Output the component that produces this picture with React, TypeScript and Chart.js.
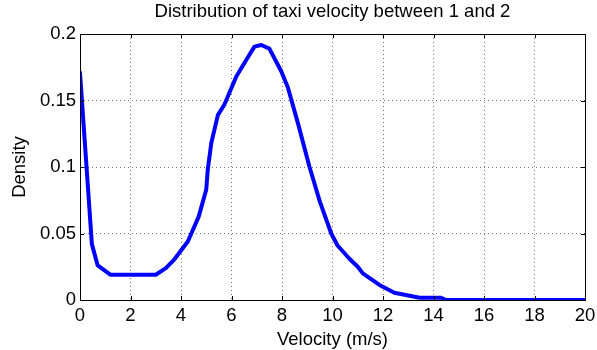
import React, { useEffect, useRef } from "react";
import { Chart, registerables } from "chart.js";

Chart.register(...registerables);

// Velocity (m/s) and estimated density along the curve
const velocity = [
  0, 0.47, 0.7, 1.2, 3.0, 3.4, 3.74, 4.27, 4.7, 5.0, 5.06, 5.2, 5.46, 5.72, 6.19, 6.6, 6.91, 7.18,
  7.5, 7.97, 8.23, 8.63, 9.09, 9.5, 9.95, 10.2, 10.67, 11.0, 11.2, 11.86, 12.45, 13.45, 14.3, 14.5,
  16, 18, 20,
];
const density = [
  0.171, 0.042, 0.026, 0.019, 0.019, 0.024, 0.0306, 0.044, 0.0627, 0.083, 0.098, 0.118, 0.139,
  0.147, 0.168, 0.181, 0.1905, 0.1917, 0.189, 0.172, 0.16, 0.133, 0.1, 0.074, 0.05, 0.041, 0.031,
  0.025, 0.02, 0.0113, 0.0055, 0.0017, 0.0017, 0, 0, 0, 0,
];

const xTickLabels = ["0", "2", "4", "6", "8", "10", "12", "14", "16", "18", "20"];
const yTickLabels = ["0", "0.05", "0.1", "0.15", "0.2"];

const titleText = "Distribution of taxi velocity between 1 and 2";
const xLabel = "Velocity (m/s)";
const yLabel = "Density";

const FONT = "'Liberation Sans', Arial, sans-serif";
const FONT_SIZE = 18.5;

// Frame, inward tick marks, title and axis labels
const framePlugin = {
  id: "frame",
  afterDatasetsDraw(chart: any) {
    const { ctx, chartArea: a, scales } = chart;
    const xs = scales.x;
    const ys = scales.y;
    ctx.save();
    ctx.strokeStyle = "#000";
    ctx.lineWidth = 1;
    ctx.strokeRect(Math.round(a.left) + 0.5, Math.round(a.top) + 0.5, Math.round(a.right - a.left), Math.round(a.bottom - a.top));
    const tl = 4;
    ctx.beginPath();
    xs.ticks.forEach((t: any) => {
      const px = Math.round(xs.getPixelForValue(t.value)) + 0.5;
      ctx.moveTo(px, a.bottom);
      ctx.lineTo(px, a.bottom - tl);
      ctx.moveTo(px, a.top);
      ctx.lineTo(px, a.top + tl);
    });
    ys.ticks.forEach((t: any) => {
      const py = Math.round(ys.getPixelForValue(t.value)) + 0.5;
      ctx.moveTo(a.left, py);
      ctx.lineTo(a.left + tl, py);
      ctx.moveTo(a.right, py);
      ctx.lineTo(a.right - tl, py);
    });
    ctx.stroke();

    ctx.fillStyle = "#000";
    ctx.font = `${FONT_SIZE}px ${FONT}`;
    ctx.textAlign = "center";
    ctx.textBaseline = "middle";
    const cx = (a.left + a.right) / 2;
    ctx.fillText(titleText, cx, 12);
    ctx.fillText(xLabel, cx, 340);
    ctx.translate(20, (a.top + a.bottom) / 2);
    ctx.rotate(-Math.PI / 2);
    ctx.fillText(yLabel, 0, 0);
    ctx.restore();
  },
};

export default function App() {
  const ref = useRef<HTMLCanvasElement>(null);
  useEffect(() => {
    if (!ref.current) return;
    const chart = new Chart(ref.current, {
      type: "line",
      data: {
        datasets: [
          {
            data: velocity.map((v, i) => ({ x: v, y: density[i] })),
            borderColor: "#0000ff",
            borderWidth: 4,
            pointRadius: 0,
            fill: false,
            tension: 0,
            borderJoinStyle: "round",
            borderCapStyle: "round",
          },
        ],
      },
      options: {
        responsive: false,
        animation: false,
        events: [],
        layout: { padding: { top: 34, right: 12, left: 0, bottom: 0 } },
        plugins: { legend: { display: false }, tooltip: { enabled: false } },
        scales: {
          x: {
            type: "linear",
            min: 0,
            max: 20,
            afterFit: (s: any) => {
              s.height = 50;
              s.paddingLeft = 0;
              s.paddingRight = 0;
            },
            afterBuildTicks: (s: any) => {
              s.ticks = xTickLabels.map((l) => ({ value: Number(l) }));
            },
            ticks: {
              color: "#000",
              font: { family: FONT, size: FONT_SIZE },
              padding: 5,
              maxRotation: 0,
              autoSkip: false,
              callback: (v: any, i: number) => xTickLabels[i],
            },
            grid: {
              color: "rgba(0,0,0,0.55)",
              lineWidth: 1,
              drawTicks: false,
            },
            border: { display: false, dash: [1, 3] },
          },
          y: {
            type: "linear",
            min: 0,
            max: 0.2,
            afterFit: (s: any) => {
              s.width = 80;
              s.paddingTop = 0;
              s.paddingBottom = 0;
            },
            afterBuildTicks: (s: any) => {
              s.ticks = yTickLabels.map((l) => ({ value: Number(l) }));
            },
            ticks: {
              color: "#000",
              font: { family: FONT, size: FONT_SIZE },
              padding: 4,
              autoSkip: false,
              callback: (v: any, i: number) => yTickLabels[i],
            },
            grid: {
              color: "rgba(0,0,0,0.55)",
              lineWidth: 1,
              drawTicks: false,
            },
            border: { display: false, dash: [1, 3] },
          },
        },
      },
      plugins: [framePlugin],
    });
    return () => chart.destroy();
  }, []);
  return (
    <canvas
      ref={ref}
      width={597}
      height={350}
      style={{ position: "absolute", left: 0, top: 0, width: 597, height: 350, background: "#fff" }}
    />
  );
}
